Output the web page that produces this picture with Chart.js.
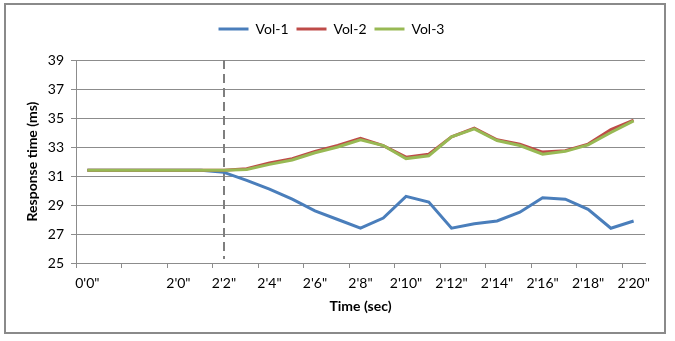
<!DOCTYPE html>
<html>
<head>
<meta charset="utf-8">
<script src="https://cdn.jsdelivr.net/npm/chart.js@4.4.1/dist/chart.umd.min.js"></script>
<style>
  html, body { margin: 0; padding: 0; background: #fff; }
  #wrap { width: 675px; height: 341px; position: relative; }
</style>
</head>
<body>
<div id="wrap"><canvas id="chart"></canvas></div>
<script>
/* ─── Data ───────────────────── */
const timeLabels = [`0'0"`, '', '', '', `2'0"`, '', `2'2"`, '', `2'4"`, '', `2'6"`, '', `2'8"`,
                    '', `2'10"`, '', `2'12"`, '', `2'14"`, '', `2'16"`, '', `2'18"`, '', `2'20"`];

const vol1 = [31.4, 31.4, 31.4, 31.4, 31.4, 31.4, 31.25, 30.7, 30.1, 29.4, 28.6, 28.0, 27.4,
              28.1, 29.6, 29.2, 27.4, 27.7, 27.9, 28.5, 29.5, 29.4, 28.7, 27.4, 27.9];
const vol2 = [31.4, 31.4, 31.4, 31.4, 31.4, 31.4, 31.4, 31.5, 31.9, 32.2, 32.7, 33.1, 33.6,
              33.1, 32.3, 32.5, 33.7, 34.3, 33.5, 33.2, 32.65, 32.75, 33.2, 34.2, 34.85];
const vol3 = [31.4, 31.4, 31.4, 31.4, 31.4, 31.4, 31.4, 31.45, 31.8, 32.1, 32.6, 33.0, 33.5,
              33.1, 32.2, 32.4, 33.7, 34.25, 33.45, 33.1, 32.5, 32.7, 33.15, 34.0, 34.8];

const markerIndex = 6;   // dashed line at 2'2"
const yMin = 25, yMax = 39, yStep = 2;

/* ─── Plugins ───────────────────── */
const frame = {
  id: 'frame',
  beforeDraw(chart) {
    const ctx = chart.ctx;
    ctx.save();
    ctx.fillStyle = '#fff';
    ctx.fillRect(0, 0, chart.width, chart.height);
    ctx.strokeStyle = '#8a8a8a';
    ctx.lineWidth = 2;
    ctx.strokeRect(5, 4, 660, 329);
    ctx.restore();
  }
};

const marker = {
  id: 'marker',
  beforeDatasetsDraw(chart) {
    const { ctx, chartArea, scales } = chart;
    const x = Math.round(scales.x.getPixelForValue(markerIndex));
    ctx.save();
    ctx.strokeStyle = '#7f7f7f';
    ctx.lineWidth = 2;
    ctx.setLineDash([9, 5]);
    ctx.beginPath();
    ctx.moveTo(x, chartArea.top);
    ctx.lineTo(x, chartArea.bottom - 4);
    ctx.stroke();
    ctx.restore();
  }
};

// extra room under the legend
const legendGap = {
  id: 'legendGap',
  beforeInit(chart) {
    const fit = chart.legend.fit;
    chart.legend.fit = function () {
      fit.call(this);
      this.height += 14;
    };
  }
};

/* ─── Chart ───────────────────── */
Chart.defaults.font.family = "Lato, 'Liberation Sans', sans-serif";
Chart.defaults.font.size = 14;
Chart.defaults.color = '#000';

const line = (label, data, color, order) => ({
  label, data, order,
  borderColor: color,
  backgroundColor: color,
  borderWidth: 3,
  pointRadius: 0,
  tension: 0,
  fill: false
});

new Chart(document.getElementById('chart'), {
  type: 'line',
  data: {
    labels: timeLabels,
    datasets: [
      line('Vol-1', vol1, '#4a7ebb', 2),
      line('Vol-2', vol2, '#be4b48', 1),
      line('Vol-3', vol3, '#98b954', 0)
    ]
  },
  options: {
    responsive: true,
    maintainAspectRatio: false,
    animation: false,
    layout: { padding: { left: 18, right: 30, top: 14, bottom: 24 } },
    plugins: {
      tooltip: { enabled: false },
      legend: {
        position: 'top',
        labels: {
          usePointStyle: true,
          pointStyle: 'line',
          pointStyleWidth: 30,
          padding: 8,
          font: { size: 14 },
          sort: (a, b) => a.datasetIndex - b.datasetIndex
        }
      }
    },
    scales: {
      x: {
        offset: true,
        grid: {
          offset: true,
          drawOnChartArea: false,
          tickLength: 5,
          tickColor: c => c.index % 2 === 0 ? '#8c8c8c' : 'transparent'
        },
        border: { color: '#8c8c8c' },
        ticks: { autoSkip: false, maxRotation: 0, padding: 7, font: { size: 14 } },
        title: { display: true, text: 'Time (sec)', font: { size: 14, weight: 'bold' }, padding: { top: 2, bottom: 2 } },
        afterFit(s) { s.height = 54; }
      },
      y: {
        min: yMin,
        max: yMax,
        ticks: { stepSize: yStep, padding: 7, font: { size: 14 } },
        grid: { color: '#8c8c8c', tickLength: 5 },
        border: { color: '#8c8c8c' },
        title: { display: true, text: 'Response time (ms)', font: { size: 14, weight: 'bold' }, padding: { top: 6, bottom: 0 } },
        afterFit(s) { s.width = 58; }
      }
    }
  },
  plugins: [frame, marker, legendGap]
});
</script>
</body>
</html>
